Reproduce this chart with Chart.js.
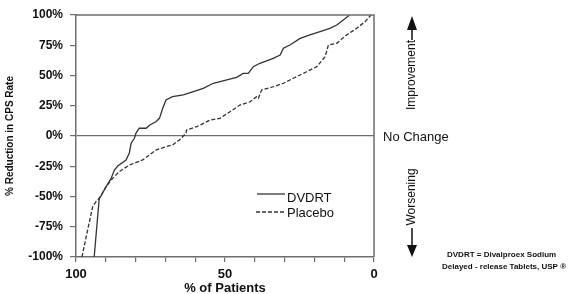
<!DOCTYPE html>
<html>
<head>
<meta charset="utf-8">
<script src="https://cdn.jsdelivr.net/npm/chart.js@4.4.1/dist/chart.umd.min.js"></script>
<style>
  html, body { margin: 0; padding: 0; background: #fff; }
  #wrap { width: 583px; height: 294px; position: relative; }
</style>
</head>
<body>
<div id="wrap"><canvas id="cpsChart"></canvas></div>
<script>
// ---- data ----
const dvdrtPct = [93.9, 92.2, 91.6, 89.9, 88.3, 87.1, 86.0, 83.2, 82.1, 81.5, 80.4, 79.9, 78.8, 76.5, 75.2, 73.2, 72.0, 70.9, 69.8, 67.6, 64.0, 60.6, 57.3, 53.9, 49.4, 46.1, 43.9, 42.2, 40.5, 38.3, 33.8, 31.5, 30.4, 28.2, 24.8, 21.5, 18.1, 14.8, 12.5, 10.3, 8.6, 8.1];
const dvdrtChange = [-100, -51.5, -49.6, -41.9, -35.5, -28.1, -24.8, -19.8, -14.0, -6.0, -1.9, 2.2, 6.4, 6.4, 9.1, 11.8, 14.6, 22.9, 29.8, 32.5, 33.9, 36.6, 39.4, 43.6, 46.3, 48.5, 51.8, 51.8, 57.3, 60.1, 64.2, 66.9, 72.5, 75.2, 80.7, 83.5, 86.2, 89.0, 91.7, 95.9, 99.2, 100];

const placeboPct = [98.0, 96.1, 94.4, 93.3, 92.2, 89.9, 87.7, 85.5, 82.1, 77.6, 73.2, 69.8, 67.6, 65.3, 63.1, 62.9, 59.5, 55.0, 51.7, 48.3, 45.0, 41.6, 39.4, 38.8, 37.7, 33.8, 30.4, 27.1, 22.6, 19.2, 16.4, 15.3, 12.5, 9.2, 5.8, 3.0, 1.3, 1.0];
const placeboChange = [-100, -77.7, -58.4, -54.3, -51.5, -41.9, -35.0, -29.5, -24.0, -19.8, -11.6, -8.8, -7.4, -3.3, 2.2, 5.0, 7.7, 13.2, 14.6, 20.1, 25.6, 28.3, 32.5, 31.2, 38.0, 40.7, 43.6, 47.7, 53.1, 57.3, 65.5, 75.2, 76.6, 83.5, 89.0, 94.5, 99.2, 100];

const xTickLabels = [100, 50, 0];
const seriesNames = ["DVDRT", "Placebo"];

// ---- style ----
const FONT = '"Liberation Sans", Arial, sans-serif';
const lineColor = "#333";
const axisColor = "#6e6e6e";
const textColor = "#111";

function toPoints(xs, ys) {
  return xs.map((x, i) => ({ x: x, y: ys[i] }));
}

// legend, frame and side notes
const annotations = {
  id: "annotations",
  afterDraw(chart) {
    const c = chart.ctx;
    const a = chart.chartArea;
    const y0 = chart.scales.y.getPixelForValue(0);
    c.save();

    // frame top + right
    c.strokeStyle = axisColor;
    c.lineWidth = 1.5;
    c.beginPath();
    c.moveTo(a.left, a.top);
    c.lineTo(a.right, a.top);
    c.lineTo(a.right, a.bottom);
    c.stroke();

    // legend
    c.strokeStyle = lineColor;
    c.lineWidth = 1.3;
    c.beginPath();
    c.moveTo(a.left + 181, 194);
    c.lineTo(a.left + 209, 194);
    c.stroke();
    c.setLineDash([4, 2]);
    c.beginPath();
    c.moveTo(a.left + 180, 212);
    c.lineTo(a.left + 209, 212);
    c.stroke();
    c.setLineDash([]);
    c.fillStyle = textColor;
    c.font = "13px " + FONT;
    c.textAlign = "left";
    c.textBaseline = "middle";
    c.fillText(seriesNames[0], a.left + 211, 198);
    c.fillText(seriesNames[1], a.left + 211, 213);

    // no change
    c.fillText("No Change", a.right + 9, y0 + 1);

    // improvement / worsening
    const ax = a.right + 38;
    c.font = "12px " + FONT;
    c.textAlign = "center";
    c.save();
    c.translate(ax, 75);
    c.rotate(-Math.PI / 2);
    c.fillText("Improvement", 0, 0);
    c.restore();
    c.save();
    c.translate(ax, 197);
    c.rotate(-Math.PI / 2);
    c.fillText("Worsening", 0, 0);
    c.restore();

    c.strokeStyle = textColor;
    c.lineWidth = 1.5;
    c.beginPath();
    c.moveTo(ax, 40); c.lineTo(ax, 28);
    c.moveTo(ax, 228); c.lineTo(ax, 248);
    c.stroke();
    c.beginPath();
    c.moveTo(ax, 16); c.lineTo(ax - 5, 30); c.lineTo(ax + 5, 30); c.closePath();
    c.fill();
    c.beginPath();
    c.moveTo(ax, 257); c.lineTo(ax - 5, 245); c.lineTo(ax + 5, 245); c.closePath();
    c.fill();

    // footnote
    c.font = "bold 8px " + FONT;
    c.textAlign = "left";
    c.fillText("DVDRT = Divalproex Sodium", 447, 255);
    c.fillText("Delayed - release Tablets, USP \u00ae", 442, 267);

    c.restore();
  }
};

const chart = new Chart(document.getElementById("cpsChart"), {
  type: "scatter",
  data: {
    datasets: [
      {
        label: seriesNames[0],
        data: toPoints(dvdrtPct, dvdrtChange),
        showLine: true,
        borderColor: lineColor,
        borderWidth: 1.3,
        pointRadius: 0,
        tension: 0
      },
      {
        label: seriesNames[1],
        data: toPoints(placeboPct, placeboChange),
        showLine: true,
        borderColor: lineColor,
        borderWidth: 1.3,
        borderDash: [4, 2],
        pointRadius: 0,
        tension: 0
      }
    ]
  },
  options: {
    responsive: true,
    maintainAspectRatio: false,
    animation: false,
    layout: { padding: { left: 0, top: 15, right: 209, bottom: 0 } },
    plugins: {
      legend: { display: false },
      tooltip: { enabled: false }
    },
    scales: {
      x: {
        type: "linear",
        min: 0,
        max: 100,
        reverse: true,
        afterFit(scale) { scale.height = 37; },
        border: { display: true, color: axisColor, width: 1.5 },
        grid: { drawOnChartArea: false, drawTicks: true, tickLength: 5, color: axisColor, lineWidth: 1.2 },
        ticks: {
          stepSize: 10,
          padding: 5,
          maxRotation: 0,
          autoSkip: false,
          color: textColor,
          font: { family: FONT, size: 13, weight: "bold" },
          callback: (v) => (xTickLabels.includes(v) ? String(v) : "")
        },
        title: {
          display: true,
          text: "% of Patients",
          color: textColor,
          padding: { top: 0, bottom: -2 },
          font: { family: FONT, size: 13, weight: "bold" }
        }
      },
      y: {
        min: -100,
        max: 100,
        afterFit(scale) { scale.width = 76; },
        border: { display: true, color: axisColor, width: 1.5 },
        grid: {
          drawOnChartArea: true,
          drawTicks: true,
          tickLength: 6,
          tickColor: axisColor,
          lineWidth: 1.2,
          color: (ctx) => (ctx.tick && ctx.tick.value === 0 ? axisColor : "transparent")
        },
        ticks: {
          stepSize: 25,
          padding: 7,
          color: textColor,
          font: { family: FONT, size: 12, weight: "bold" },
          callback: (v) => v + "%"
        },
        title: {
          display: true,
          text: "% Reduction in CPS Rate",
          color: textColor,
          padding: { top: 4, bottom: 0 },
          font: { family: FONT, size: 10, weight: "bold" }
        }
      }
    }
  },
  plugins: [annotations]
});
</script>
</body>
</html>
